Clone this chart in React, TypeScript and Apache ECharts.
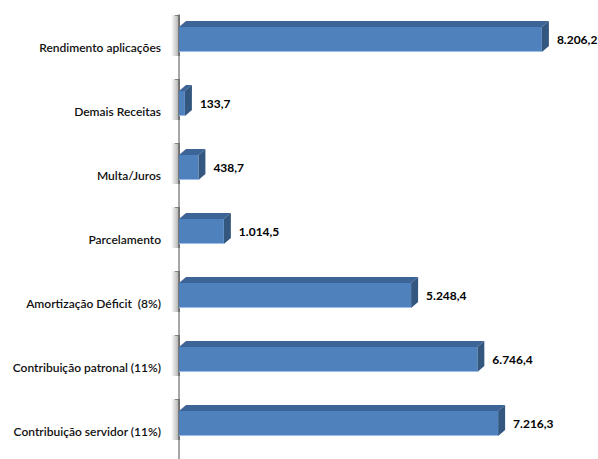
import React, { useEffect, useRef } from "react";
import * as echarts from "echarts";

const categories = [
  "Contribuição servidor (11%)",
  "Contribuição patronal (11%)",
  "Amortização Déficit  (8%)",
  "Parcelamento",
  "Multa/Juros",
  "Demais Receitas",
  "Rendimento aplicações",
];
const values = [7216.3, 6746.4, 5248.4, 1014.5, 438.7, 133.7, 8206.2];

function fmt(v: number): string {
  const [i, d] = v.toFixed(1).split(".");
  const withDots = i.replace(/\B(?=(\d{3})+(?!\d))/g, ".");
  return withDots + "," + d;
}

export default function App() {
  const ref = useRef<HTMLDivElement>(null);
  useEffect(() => {
    if (!ref.current) return;
    const chart = echarts.init(ref.current, null, { renderer: "svg" });
    const renderItem = (params: any, api: any) => {
      const v = api.value(0);
      const idx = api.value(1);
      const p0 = api.coord([0, idx]);
      const p1 = api.coord([v, idx]);
      const cy = p0[1];
      const x0 = p0[0];
      const x1 = p1[0];
      const top = cy - 20;
      const bottom = cy + 5;
      const dx = 7;
      const dy = 6;
      return {
        type: "group",
        children: [
          {
            type: "rect",
            shape: { x: x0 - 8, y: top - 12, width: 9, height: bottom - top + 16 },
            style: {
              fill: new echarts.graphic.LinearGradient(0, 0, 1, 0, [
                { offset: 0, color: "rgba(0,0,0,0)" },
                { offset: 1, color: "rgba(0,0,0,0.35)" },
              ]),
            },
          },
          {
            type: "polygon",
            shape: { points: [[x0, top], [x0 + dx, top - dy], [x1 + dx, top - dy], [x1, top]] },
            style: { fill: "#3C6496" },
          },
          {
            type: "polygon",
            shape: { points: [[x1, top], [x1 + dx, top - dy], [x1 + dx, bottom - dy], [x1, bottom]] },
            style: { fill: "#34577F" },
          },
          {
            type: "rect",
            shape: { x: x0, y: top, width: x1 - x0, height: bottom - top },
            style: { fill: "#4F81BD" },
          },
          {
            type: "line",
            shape: { x1: x0, y1: bottom - 0.5, x2: x1, y2: bottom - 0.5 },
            style: { stroke: "#9DBDE6", lineWidth: 1 },
          },
          {
            type: "text",
            style: {
              x: x1 + dx + 8,
              y: (top + bottom) / 2,
              text: fmt(v),
              fill: "#000",
              font: "bold 12px Lato",
              verticalAlign: "middle",
              align: "left",
            },
          },
        ],
      };
    };
    chart.setOption({
      animation: false,
      backgroundColor: "#fff",
      grid: { left: 179, top: 15, height: 448, width: 398, outerBoundsMode: "none" },
      xAxis: {
        type: "value",
        min: 0,
        max: 9000,
        show: false,
        splitLine: { show: false },
      },
      yAxis: {
        type: "category",
        data: categories,
        offset: 8,
        axisLine: { show: true, lineStyle: { color: "#A6A6A6", width: 2 } },
        axisTick: { show: true, length: 4, lineStyle: { color: "#A6A6A6" } },
        axisLabel: {
          margin: 10,
          color: "#111",
          fontFamily: "Lato",
          fontSize: 12,
          fontWeight: 600,
        },
      },
      series: [
        {
          type: "custom",
          renderItem,
          encode: { x: 0, y: 1 },
          data: values.map((v, i) => [v, i]),
        },
      ],
    });
    return () => chart.dispose();
  }, []);
  return (
    <div
      ref={ref}
      style={{ position: "absolute", left: 0, top: 0, width: 598, height: 459 }}
    />
  );
}
